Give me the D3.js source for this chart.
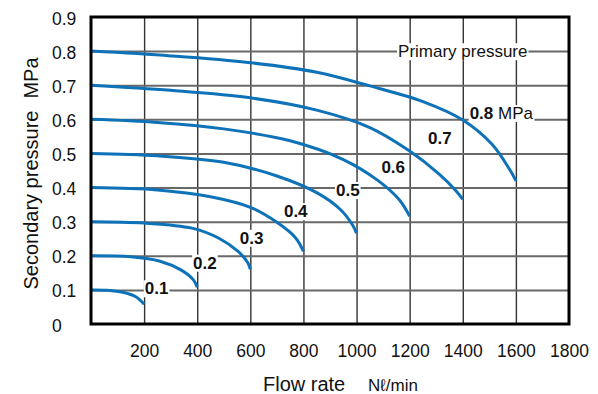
<!DOCTYPE html>
<html>
<head>
<meta charset="utf-8">
<script src="https://cdn.jsdelivr.net/npm/d3@7"></script>
<style>
  body { margin: 0; background: #fff; }
  text { font-family: "Liberation Sans", Arial, sans-serif; fill: #111; }
</style>
</head>
<body>
<div id="chart"></div>
<script>
// primary pressure of each curve, MPa
var primary = [0.1, 0.2, 0.3, 0.4, 0.5, 0.6, 0.7, 0.8];

// [flow Nl/min, secondary pressure MPa]
var curve01 = [[0, 0.1], [60, 0.099], [120, 0.093], [170, 0.079], [200, 0.058]];
var curve02 = [[0, 0.2], [150, 0.197], [260, 0.184], [340, 0.158], [385, 0.13], [400, 0.108]];
var curve03 = [[0, 0.3], [200, 0.296], [380, 0.281], [480, 0.252], [555, 0.212], [590, 0.18], [600, 0.16]];
var curve04 = [[0, 0.4], [250, 0.393], [450, 0.373], [600, 0.342], [700, 0.298], [770, 0.253], [800, 0.213]];
var curve05 = [[0, 0.5], [250, 0.493], [500, 0.474], [700, 0.434], [850, 0.385], [940, 0.335], [985, 0.29], [1000, 0.266]];
var curve06 = [[0, 0.6], [250, 0.591], [500, 0.572], [750, 0.537], [950, 0.482], [1080, 0.421], [1160, 0.365], [1200, 0.316]];
var curve07 = [[0, 0.7], [300, 0.685], [600, 0.663], [850, 0.627], [1050, 0.576], [1200, 0.507], [1310, 0.44], [1375, 0.39], [1400, 0.365]];
var curve08 = [[0, 0.8], [300, 0.786], [600, 0.766], [850, 0.738], [1050, 0.698], [1250, 0.652], [1400, 0.598], [1510, 0.527], [1575, 0.455], [1600, 0.42]];
var curves = [curve01, curve02, curve03, curve04, curve05, curve06, curve07, curve08];

// where each curve label sits, in data units
var labelFlow = [247, 429, 605, 771, 967, 1138, 1314, 1471];
var labelPress = [0.105, 0.18, 0.253, 0.331, 0.393, 0.461, 0.546, 0.619];

var xTicks = [200, 400, 600, 800, 1000, 1200, 1400, 1600, 1800];
var yTicks = [0, 0.1, 0.2, 0.3, 0.4, 0.5, 0.6, 0.7, 0.8, 0.9];

var w = 598, h = 394;
var pLeft = 91, pRight = 569, pTop = 17, pBottom = 324;
var blue = "#0e72b8";

var svg = d3.select("#chart").append("svg")
    .attr("width", w)
    .attr("height", h);

var x = d3.scaleLinear().domain([0, 1800]).range([pLeft, pRight]);
var y = d3.scaleLinear().domain([0, 0.9]).range([pBottom, pTop]);

// grid
svg.append("g")
    .attr("transform", "translate(0," + pBottom + ")")
    .call(d3.axisBottom(x).tickValues(xTicks.slice(0, -1)).tickSize(-(pBottom - pTop)).tickFormat(""))
    .call(function(g) {
      g.select(".domain").remove();
      g.selectAll(".tick line").attr("stroke", "#333").attr("stroke-width", 1.4);
    });

svg.append("g")
    .attr("transform", "translate(" + pLeft + ",0)")
    .call(d3.axisLeft(y).tickValues(yTicks.slice(1, -1)).tickSize(-(pRight - pLeft)).tickFormat(""))
    .call(function(g) {
      g.select(".domain").remove();
      g.selectAll(".tick line").attr("stroke", "#686868").attr("stroke-width", 2);
    });

// tick labels
svg.append("g")
    .attr("transform", "translate(0," + pBottom + ")")
    .call(d3.axisBottom(x).tickValues(xTicks).tickSize(0).tickPadding(0).tickFormat(d3.format("d")))
    .call(function(g) {
      g.select(".domain").remove();
      g.selectAll(".tick text")
        .attr("y", 33).attr("dy", null)
        .style("font-size", "17.5px").style("font-family", "Liberation Sans, Arial, sans-serif")
        .attr("fill", "#111");
    });

svg.append("g")
    .attr("transform", "translate(" + pLeft + ",0)")
    .call(d3.axisLeft(y).tickValues(yTicks).tickSize(0).tickFormat(function(d) { return d === 0 ? "0" : d3.format(".1f")(d); }))
    .call(function(g) {
      g.select(".domain").remove();
      g.selectAll(".tick text")
        .attr("x", 52 - pLeft).attr("dy", "0.4em")
        .attr("text-anchor", "start")
        .style("font-size", "17.5px").style("font-family", "Liberation Sans, Arial, sans-serif")
        .attr("fill", "#111");
    });

// labels with white boxes
function boxed(t) {
  var b = t.node().getBBox();
  svg.insert("rect", function() { return t.node(); })
    .attr("x", b.x - 1).attr("y", b.y + 1)
    .attr("width", b.width + 2).attr("height", b.height - 2)
    .attr("fill", "#fff");
}

var pp = svg.append("text")
    .attr("x", x(1400)).attr("y", y(0.8)).attr("dy", "0.36em")
    .attr("text-anchor", "middle")
    .style("font-size", "17px")
    .text("Primary pressure");
boxed(pp);

primary.forEach(function(p, i) {
  var t = svg.append("text")
      .attr("y", y(labelPress[i])).attr("dy", "0.36em")
      .style("font-size", "17px");
  if (i === primary.length - 1) {
    t.attr("x", x(labelFlow[i]) - 12).attr("text-anchor", "start");
    t.append("tspan").style("font-weight", "bold").text(d3.format(".1f")(p));
    t.append("tspan").text(" MPa");
  } else {
    t.attr("x", x(labelFlow[i])).attr("text-anchor", "middle")
      .style("font-weight", "bold")
      .text(d3.format(".1f")(p));
  }
  boxed(t);
});

// curves
var line = d3.line()
    .x(function(d) { return x(d[0]); })
    .y(function(d) { return y(d[1]); })
    .curve(d3.curveCatmullRom.alpha(0.5));

svg.append("g").selectAll("path")
    .data(curves)
    .enter().append("path")
    .attr("d", line)
    .attr("fill", "none")
    .attr("stroke", blue)
    .attr("stroke-width", 3);

// frame
svg.append("rect")
    .attr("x", pLeft).attr("y", pTop)
    .attr("width", pRight - pLeft).attr("height", pBottom - pTop)
    .attr("fill", "none")
    .attr("stroke", "#000")
    .attr("stroke-width", 3);

// axis titles
var yt = svg.append("text")
    .attr("transform", "translate(38," + ((pTop + pBottom) / 2 + 3) + ") rotate(-90)")
    .attr("text-anchor", "middle")
    .style("font-size", "20px");
yt.append("tspan").text("Secondary pressure");
yt.append("tspan").attr("dx", 12).text("MPa");

var xt = svg.append("text")
    .attr("x", 263).attr("y", 391)
    .style("font-size", "20px");
xt.append("tspan").text("Flow rate");
xt.append("tspan").attr("x", 368).style("font-size", "17px").text("N\u2113/min");
</script>
</body>
</html>
